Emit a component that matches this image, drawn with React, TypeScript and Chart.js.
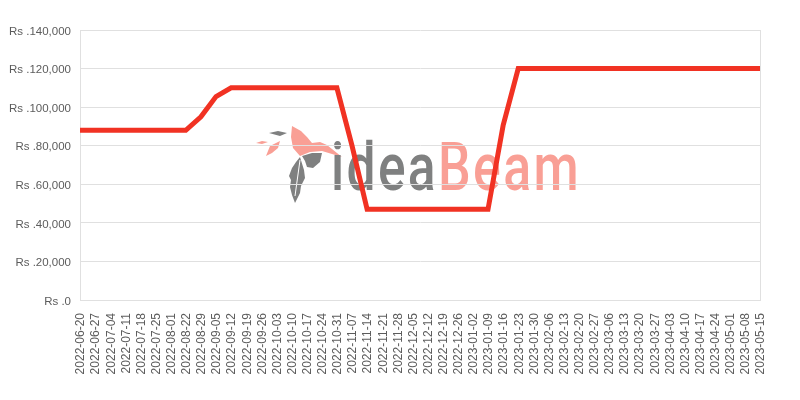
import React, { useEffect, useRef } from "react";
import { Chart, registerables } from "chart.js";

Chart.register(...registerables);

const dates = [
  "2022-06-20", "2022-06-27", "2022-07-04", "2022-07-11", "2022-07-18", "2022-07-25", "2022-08-01", "2022-08-22",
  "2022-08-29", "2022-09-05", "2022-09-12", "2022-09-19", "2022-09-26", "2022-10-03", "2022-10-10", "2022-10-17",
  "2022-10-24", "2022-10-31", "2022-11-07", "2022-11-14", "2022-11-21", "2022-11-28", "2022-12-05", "2022-12-12",
  "2022-12-19", "2022-12-26", "2023-01-02", "2023-01-09", "2023-01-16", "2023-01-23", "2023-01-30", "2023-02-06",
  "2023-02-13", "2023-02-20", "2023-02-27", "2023-03-06", "2023-03-13", "2023-03-20", "2023-03-27", "2023-04-03",
  "2023-04-10", "2023-04-17", "2023-04-24", "2023-05-01", "2023-05-08", "2023-05-15",
];

const prices = [
  88000, 88000, 88000, 88000, 88000, 88000, 88000, 88000,
  95000, 105500, 110000, 110000, 110000, 110000, 110000, 110000,
  110000, 110000, 80000, 47000, 47000, 47000, 47000, 47000,
  47000, 47000, 47000, 47000, 90500, 120000, 120000, 120000,
  120000, 120000, 120000, 120000, 120000, 120000, 120000, 120000,
  120000, 120000, 120000, 120000, 120000, 120000,
];

const GRAY = "#7f8080";
const PINK = "#f99f95";
const GRID = "#e0e0e0";
const TICK = "#5c5c5c";
const FONT = "'Liberation Sans', Arial, sans-serif";

type Shape = { color: string; pts: number[][] };
const logoShapes: Shape[] = [
  { color: PINK, pts: [[292, 126], [301, 131], [307, 137], [312, 143], [320, 142], [327, 145], [342, 157], [322, 151], [310, 152], [300, 156], [293, 148], [291, 137]] },
  { color: GRAY, pts: [[302, 156], [312, 153], [322, 153], [320, 162], [313, 168], [307, 167], [305, 161]] },
  { color: GRAY, pts: [[300, 157], [304, 170], [305, 178], [301, 186], [300, 193], [295, 203], [292, 195], [290, 187], [291, 180], [289, 176], [292, 168], [296, 162]] },
  { color: GRAY, pts: [[269, 133], [278, 131], [287, 133], [280, 136]] },
  { color: PINK, pts: [[256, 143], [262, 141], [268, 142], [262, 144]] },
  { color: PINK, pts: [[266, 156], [270, 146], [280, 141], [278, 148], [272, 153]] },
];

const logoPlugin = {
  id: "logo",
  beforeDraw(chart: Chart) {
    const ctx: any = chart.ctx;
    const yScale: any = chart.scales.y;
    const xScale: any = chart.scales.x;
    if (!yScale._shifted) {
      yScale._shifted = true;
      yScale.getLabelItems().forEach((it: any) => { it.options.translation[1] += 1.5; });
      xScale.getLabelItems().forEach((it: any) => { it.options.translation[0] += 1; });
    }
    ctx.save();
    for (const s of logoShapes) {
      ctx.fillStyle = s.color;
      ctx.beginPath();
      s.pts.forEach((p, i) => (i ? ctx.lineTo(p[0], p[1]) : ctx.moveTo(p[0], p[1])));
      ctx.closePath();
      ctx.fill();
    }
    ctx.strokeStyle = "#ffffff";
    ctx.lineWidth = 1;
    ctx.beginPath();
    ctx.moveTo(300, 160);
    ctx.lineTo(295, 196);
    ctx.stroke();
    ctx.textBaseline = "alphabetic";
    ctx.textAlign = "left";
    ctx.font = "500 66px Roboto, sans-serif";
    ctx.letterSpacing = "3px";
    ctx.fillStyle = GRAY;
    ctx.fillText("idea", 331, 190, 107);
    ctx.fillStyle = PINK;
    ctx.fillText("Beam", 438, 190, 143);
    ctx.restore();
  },
  afterDraw(chart: Chart) {
    const { ctx, chartArea: a } = chart;
    ctx.save();
    ctx.strokeStyle = GRID;
    ctx.lineWidth = 1;
    ctx.beginPath();
    ctx.moveTo(a.right + 0.5, a.top);
    ctx.lineTo(a.right + 0.5, a.bottom);
    ctx.stroke();
    ctx.restore();
  },
};

export default function App() {
  const ref = useRef<HTMLCanvasElement>(null);
  useEffect(() => {
    const chart = new Chart(ref.current!, {
      type: "line",
      data: {
        labels: dates,
        datasets: [
          {
            data: prices,
            borderColor: "#f13223",
            backgroundColor: "#f13223",
            borderWidth: 5,
            pointRadius: 0,
            fill: false,
            tension: 0,
          },
        ],
      },
      options: {
        animation: false,
        responsive: false,
        devicePixelRatio: 1,
        layout: { padding: { top: 30, right: 40, left: 0, bottom: 0 } },
        plugins: { legend: { display: false }, tooltip: { enabled: false } },
        scales: {
          x: {
            offset: false,
            afterFit: (s: any) => { s.height = 100; },
            grid: { display: false },
            border: { color: GRID },
            ticks: {
              autoSkip: false,
              maxRotation: 90,
              minRotation: 90,
              padding: 5,
              color: TICK,
              font: { family: FONT, size: 12 },
            },
          },
          y: {
            min: 0,
            max: 140000,
            afterFit: (s: any) => { s.width = 80; },
            grid: { color: GRID, drawTicks: false },
            border: { color: GRID },
            ticks: {
              stepSize: 20000,
              padding: 9,
              color: TICK,
              font: { family: FONT, size: 11.5 },
              callback: (v: any) => "Rs ." + Number(v).toLocaleString("en-US"),
            },
          },
        },
      },
      plugins: [logoPlugin],
    } as any);
    return () => chart.destroy();
  }, []);
  return (
    <div style={{ position: "fixed", left: 0, top: 0, width: 800, height: 400, background: "#fff" }}>
      <canvas ref={ref} width={800} height={400} style={{ display: "block" }} />
    </div>
  );
}
